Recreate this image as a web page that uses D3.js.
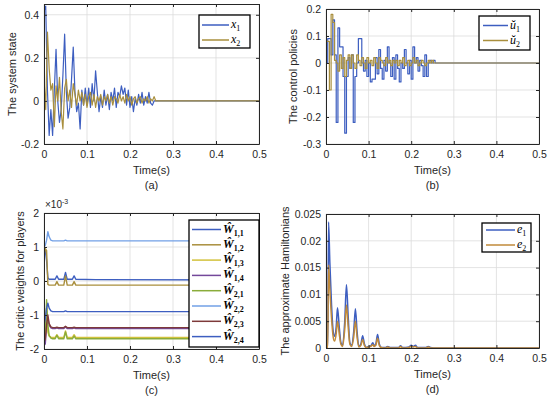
<!DOCTYPE html>
<html>
<head>
<meta charset="utf-8">
<script src="https://cdn.jsdelivr.net/npm/d3@7"></script>
<style>
  body { margin: 0; background: #fff; }
  svg { display: block; font-family: "Liberation Sans", Arial, sans-serif; }
</style>
</head>
<body>
<svg id="chart" width="550" height="399"></svg>
<script>
var timeTicks = [0, 0.1, 0.2, 0.3, 0.4, 0.5];
var timeTickLabels = ['0', '0.1', '0.2', '0.3', '0.4', '0.5'];

// (a) system state, sampled every 4 ms until 0.26 s, then flat to 0.5 s
var sampleTimes = d3.range(66).map(function (i) { return i * 0.004; }).concat([0.5]);
var x1Values = [0.42, 0.44, 0.05, -0.16, -0.04, -0.16, 0.05, 0.24, 0.0, -0.1,
  -0.04, 0.12, 0.31, 0.04, -0.08, -0.03, 0.1, 0.25, 0.04, -0.05,
  -0.01, -0.13, 0.05, -0.02, 0.06, -0.02, 0.06, -0.03, 0.08, 0.0,
  0.14, 0.04, -0.05, 0.02, -0.03, 0.05, -0.02, 0.03, -0.04, 0.04,
  0.0, 0.06, -0.03, 0.04, 0.02, 0.07, 0.03, 0.06, -0.02, 0.05,
  -0.03, 0.02, -0.05, 0.01, -0.02, 0.03, -0.01, 0.04, -0.02, 0.02,
  -0.01, 0.04, -0.01, -0.02, 0.0, 0.0, 0.0];
var x2Values = [0.1, -0.04, 0.32, 0.15, 0.05, 0.08, -0.12, 0.07, 0.0, 0.11,
  -0.05, -0.13, 0.06, 0.1, 0.0, 0.05, -0.03, 0.08, 0.03, -0.02,
  0.05, 0.0, 0.04, -0.02, 0.03, -0.03, 0.02, 0.04, -0.02, 0.03,
  -0.03, 0.02, 0.0, 0.03, -0.02, 0.02, 0.0, 0.03, -0.01, 0.02,
  -0.02, 0.02, 0.01, -0.01, 0.03, 0.0, 0.02, -0.01, 0.03, 0.0,
  0.02, -0.02, 0.01, 0.02, -0.01, 0.01, 0.02, -0.01, 0.01, 0.0,
  0.02, -0.01, 0.01, 0.0, 0.02, 0.0, 0.0];
var stateTicks = [-0.2, 0, 0.2, 0.4];
var stateTickLabels = ['-0.2', '0', '0.2', '0.4'];

// (b) control policies
var u1Values = [0.0, 0.09, 0.09, 0.03, 0.16, 0.03, -0.22, 0.13, 0.06, 0.06,
  -0.05, -0.26, -0.05, 0.02, -0.02, 0.03, -0.22, -0.05, 0.0, 0.09,
  0.09, 0.0, -0.03, 0.01, -0.05, 0.0, -0.07, -0.06, -0.06, 0.02,
  -0.04, 0.05, -0.02, -0.06, 0.01, -0.03, 0.06, 0.0, -0.05, 0.02,
  -0.06, 0.03, -0.02, -0.07, 0.0, -0.02, 0.05, 0.0, -0.04, 0.01,
  -0.06, 0.06, 0.0, 0.02, -0.03, 0.01, -0.01, -0.05, 0.03, -0.05,
  0.0, 0.01, 0.0, 0.01, 0.0, 0.0, 0.0];
var u2Values = [0.08, 0.08, -0.1, 0.18, 0.15, 0.01, 0.0, -0.03, 0.03, -0.02,
  0.02, -0.05, 0.01, 0.03, -0.02, 0.03, 0.0, -0.02, 0.03, 0.01,
  -0.01, 0.02, 0.0, -0.02, 0.02, 0.0, 0.01, -0.01, 0.02, 0.0,
  -0.02, 0.02, 0.01, 0.0, -0.01, 0.02, 0.0, 0.01, -0.01, 0.01,
  0.0, 0.01, -0.01, 0.01, 0.0, 0.02, -0.01, 0.0, 0.01, -0.01,
  0.0, 0.02, 0.0, 0.01, -0.01, 0.0, 0.01, 0.0, -0.01, 0.0,
  0.01, 0.0, 0.01, 0.0, 0.0, 0.0, 0.0];
var policyTicks = [-0.3, -0.2, -0.1, 0, 0.1, 0.2];
var policyTickLabels = ['-0.3', '-0.2', '-0.1', '0', '0.1', '0.2'];

// (c) critic weights, in units of 1e-3
var weightTimes = [0, 0.003, 0.006, 0.009, 0.012, 0.016, 0.02, 0.026, 0.03, 0.034,
  0.046, 0.05, 0.054, 0.066, 0.07, 0.074, 0.12, 0.5];
var w11 = [0.85, 0.9, 0.6, 0.1, 0.05, 0.05, 0.05, 0.05, 0.15, 0.05, 0.05, 0.25, 0.05, 0.05, 0.15, 0.05, 0.04, 0.03];
var w12 = [0.7, 0.95, 0.9, -0.1, -0.12, -0.12, -0.12, -0.12, -0.02, -0.12, -0.12, 0.15, -0.12, -0.12, -0.02, -0.12, -0.12, -0.12];
var w13 = [-1.85, -1.8, -0.8, -1.5, -1.62, -1.65, -1.66, -1.66, -1.58, -1.66, -1.66, -1.47, -1.66, -1.66, -1.58, -1.66, -1.66, -1.66];
var w14 = [-1.9, -1.85, -1.3, -1.1, -1.3, -1.38, -1.4, -1.4, -1.38, -1.4, -1.4, -1.35, -1.4, -1.4, -1.38, -1.4, -1.4, -1.4];
var w21 = [-1.8, -1.6, -0.55, -1.3, -1.6, -1.68, -1.7, -1.7, -1.6, -1.7, -1.7, -1.5, -1.7, -1.7, -1.62, -1.7, -1.7, -1.7];
var w22 = [1.0, 1.05, 1.2, 1.45, 1.3, 1.2, 1.18, 1.18, 1.18, 1.18, 1.18, 1.2, 1.18, 1.18, 1.18, 1.18, 1.18, 1.18];
var w23 = [-1.8, -1.7, -1.3, -1.0, -1.25, -1.35, -1.37, -1.37, -1.36, -1.37, -1.37, -1.33, -1.37, -1.37, -1.36, -1.37, -1.37, -1.37];
var w24 = [-1.3, -1.1, -0.8, -0.65, -0.8, -0.88, -0.9, -0.9, -0.9, -0.9, -0.9, -0.88, -0.9, -0.9, -0.9, -0.9, -0.9, -0.9];
var weightSubs = ['1,1', '1,2', '1,3', '1,4', '2,1', '2,2', '2,3', '2,4'];
var weightTicks = [-2, -1, 0, 1, 2];
var weightTickLabels = ['-2', '-1', '0', '1', '2'];

// (d) approximate Hamiltonians
var hamTimes = [0, 0.004, 0.006, 0.009, 0.013, 0.017, 0.02, 0.024, 0.027, 0.031,
  0.035, 0.039, 0.044, 0.048, 0.052, 0.056, 0.06, 0.065, 0.069, 0.073,
  0.077, 0.082, 0.086, 0.09, 0.095, 0.1, 0.105, 0.11, 0.113, 0.117,
  0.121, 0.125, 0.13, 0.14, 0.145, 0.15, 0.17, 0.175, 0.18, 0.195,
  0.2, 0.205, 0.21, 0.215, 0.235, 0.24, 0.245, 0.26, 0.5];
var e1Values = [0, 0, 0.0235, 0.016, 0.008, 0.003, 0.0022, 0.004, 0.0075, 0.004,
  0.001, 0.0005, 0.005, 0.0118, 0.006, 0.001, 0.0005, 0.003, 0.0073, 0.003,
  0.0003, 0.0008, 0.0023, 0.0008, 0.0001, 0.0003, 0.0004, 0.001, 0.0004, 0.0008,
  0.0025, 0.0008, 0.0001, 0.0001, 0.0003, 0.0001, 0.0001, 0.0004, 0.0001, 0.0002,
  0.0005, 0.0003, 0.0005, 0.0001, 0.0001, 0.0003, 0.0001, 0, 0];
var e2Values = [0, 0, 0.0155, 0.011, 0.0055, 0.002, 0.0013, 0.0027, 0.005, 0.0027,
  0.0007, 0.0003, 0.0035, 0.008, 0.004, 0.0007, 0.0003, 0.002, 0.005, 0.002,
  0.0002, 0.0005, 0.0016, 0.0005, 0.0001, 0.0002, 0.0003, 0.0006, 0.0003, 0.0005,
  0.0018, 0.0005, 0.0001, 0, 0.0002, 0, 0, 0.0003, 0, 0.0001,
  0.0003, 0.0002, 0.0003, 0, 0, 0.0002, 0, 0, 0];
var hamTicks = [0, 0.005, 0.01, 0.015, 0.02, 0.025];
var hamTickLabels = ['0', '0.005', '0.01', '0.015', '0.02', '0.025'];

var blue = '#3d5ec0', olive = '#a98f3d', yellow = '#d2c23c', purple = '#74489a',
    green = '#8aac3a', lightBlue = '#72a0e6', darkRed = '#7e3a3a', orange = '#c08a3a';
var ink = '#262626';

var svg = d3.select('#chart');

function label(sel, main, sub, opts) {
  var t = sel.append('text')
    .attr('font-family', '"Liberation Serif", "Times New Roman", serif')
    .attr('font-size', 12)
    .attr('fill', '#000');
  t.append('tspan').attr('font-style', 'italic')
    .attr('font-weight', opts.bold ? 'bold' : 'normal').text(main);
  t.append('tspan').attr('font-size', 8).attr('dy', 3)
    .attr('font-weight', opts.bold ? 'bold' : 'normal').text(sub);
  return t;
}

function panel(p) {
  var x = d3.scaleLinear().domain([0, 0.5]).range([p.left, p.right]);
  var y = d3.scaleLinear().domain(p.yDomain).range([p.bottom, p.top]);
  var g = svg.append('g');

  // Grid
  g.selectAll('.gx').data(timeTicks).enter().append('line')
    .attr('x1', x).attr('x2', x).attr('y1', p.top).attr('y2', p.bottom)
    .attr('stroke', '#dcdcdc').attr('stroke-width', 0.8);
  g.selectAll('.gy').data(p.yTicks).enter().append('line')
    .attr('x1', p.left).attr('x2', p.right).attr('y1', y).attr('y2', y)
    .attr('stroke', '#dcdcdc').attr('stroke-width', 0.8);

  // Lines
  svg.append('clipPath').attr('id', 'clip-' + p.id).append('rect')
    .attr('x', p.left).attr('y', p.top)
    .attr('width', p.right - p.left).attr('height', p.bottom - p.top);
  var line = d3.line()
    .curve(p.curve || d3.curveLinear)
    .x(function (d) { return x(d.t); })
    .y(function (d) { return y(d.v); });
  g.append('g').attr('clip-path', 'url(#clip-' + p.id + ')')
    .selectAll('path').data(p.series).enter().append('path')
    .attr('d', function (s) {
      return line(s.times.map(function (t, i) { return {t: t, v: s.values[i]}; }));
    })
    .attr('fill', 'none')
    .attr('stroke', function (s) { return s.color; })
    .attr('stroke-width', p.lineWidth)
    .attr('stroke-linejoin', 'round');

  // Axes (box with inward ticks)
  var axes = [
    g.append('g').attr('transform', 'translate(0,' + p.bottom + ')')
      .call(d3.axisBottom(x).tickValues(timeTicks)
        .tickFormat(function (d, i) { return timeTickLabels[i]; })
        .tickSizeInner(-3).tickSizeOuter(0).tickPadding(7)),
    g.append('g').attr('transform', 'translate(0,' + p.top + ')')
      .call(d3.axisTop(x).tickValues(timeTicks).tickFormat('')
        .tickSizeInner(-3).tickSizeOuter(0)),
    g.append('g').attr('transform', 'translate(' + p.left + ',0)')
      .call(d3.axisLeft(y).tickValues(p.yTicks)
        .tickFormat(function (d, i) { return p.yLabels[i]; })
        .tickSizeInner(-3).tickSizeOuter(0).tickPadding(5)),
    g.append('g').attr('transform', 'translate(' + p.right + ',0)')
      .call(d3.axisRight(y).tickValues(p.yTicks).tickFormat('')
        .tickSizeInner(-3).tickSizeOuter(0))
  ];
  axes.forEach(function (a) {
    a.select('.domain').attr('stroke', ink);
    a.selectAll('.tick line').attr('stroke', ink);
    a.selectAll('.tick text').attr('fill', ink).attr('font-size', 10.5)
      .attr('font-family', '"Liberation Sans", Arial, sans-serif');
  });

  // Titles
  var cx = (p.left + p.right) / 2;
  g.append('text').attr('x', cx).attr('y', p.bottom + 30)
    .attr('text-anchor', 'middle').attr('font-size', 11).attr('fill', ink)
    .text('Time(s)');
  g.append('text').attr('x', cx).attr('y', p.bottom + 45)
    .attr('text-anchor', 'middle').attr('font-size', 11).attr('fill', ink)
    .text(p.caption);
  g.append('text')
    .attr('transform', 'translate(' + p.yLabelX + ',' + (p.top + p.bottom) / 2 + ') rotate(-90)')
    .attr('text-anchor', 'middle').attr('font-size', 11).attr('fill', ink)
    .text(p.yLabel);

  // Legend
  var L = p.legend;
  var lg = g.append('g');
  lg.append('rect').attr('x', L.x).attr('y', L.y).attr('width', L.w).attr('height', L.h)
    .attr('fill', '#fff').attr('stroke', '#000').attr('stroke-width', 1.3);
  p.series.forEach(function (s, i) {
    var ry = L.row0 + i * L.dy;
    lg.append('line').attr('x1', L.lx0).attr('x2', L.lx1).attr('y1', ry).attr('y2', ry)
      .attr('stroke', s.color).attr('stroke-width', 1.5);
    label(lg, s.name, s.sub, {bold: L.bold})
      .attr('x', L.tx).attr('y', ry + 3);
  });
  return {x: x, y: y, g: g};
}

panel({
  id: 'a', left: 44, right: 259, top: 4, bottom: 144,
  yDomain: [-0.2, 0.45], yTicks: stateTicks, yLabels: stateTickLabels,
  yLabel: 'The system state', yLabelX: 15.5, caption: '(a)', lineWidth: 1.2,
  series: [
    {name: 'x', sub: '1', color: blue, times: sampleTimes, values: x1Values},
    {name: 'x', sub: '2', color: olive, times: sampleTimes, values: x2Values}
  ],
  legend: {x: 199, y: 15, w: 51, h: 33, row0: 25, dy: 15, lx0: 202, lx1: 229, tx: 231}
});

panel({
  id: 'b', left: 326, right: 539, top: 9, bottom: 144,
  yDomain: [-0.3, 0.2], yTicks: policyTicks, yLabels: policyTickLabels,
  yLabel: 'The control policies', yLabelX: 297, caption: '(b)', lineWidth: 1.2,
  curve: d3.curveStepAfter,
  series: [
    {name: '\u016D', sub: '1', color: blue, times: sampleTimes, values: u1Values},
    {name: '\u016D', sub: '2', color: olive, times: sampleTimes, values: u2Values}
  ],
  legend: {x: 479, y: 16, w: 51, h: 34, row0: 25.5, dy: 15, lx0: 483, lx1: 508, tx: 510}
});

var pc = panel({
  id: 'c', left: 44, right: 259, top: 213, bottom: 349,
  yDomain: [-2, 2], yTicks: weightTicks, yLabels: weightTickLabels,
  yLabel: 'The critic weights for players', yLabelX: 24, caption: '(c)', lineWidth: 1.4,
  series: [w11, w12, w13, w14, w21, w22, w23, w24].map(function (v, i) {
    return {
      name: '\u0174', sub: weightSubs[i], times: weightTimes, values: v,
      color: [blue, olive, yellow, purple, green, lightBlue, darkRed, blue][i]
    };
  }),
  legend: {x: 189, y: 220, w: 70, h: 127, row0: 229.5, dy: 15.3, lx0: 192, lx1: 221, tx: 223, bold: true}
});
var expo = pc.g.append('text').attr('x', 45).attr('y', 208)
  .attr('font-size', 10).attr('fill', ink);
expo.append('tspan').text('\u00D710');
expo.append('tspan').attr('font-size', 7).attr('dy', -4).text('-3');

panel({
  id: 'd', left: 326, right: 539, top: 214, bottom: 348,
  yDomain: [0, 0.025], yTicks: hamTicks, yLabels: hamTickLabels,
  yLabel: 'The approximate Hamiltonians', yLabelX: 289, caption: '(d)', lineWidth: 1.5,
  curve: d3.curveMonotoneX,
  series: [
    {name: 'e', sub: '1', color: blue, times: hamTimes, values: e1Values},
    {name: 'e', sub: '2', color: orange, times: hamTimes, values: e2Values}
  ],
  legend: {x: 482, y: 223, w: 49, h: 29, row0: 230, dy: 15, lx0: 486, lx1: 515, tx: 517}
});
</script>
</body>
</html>
